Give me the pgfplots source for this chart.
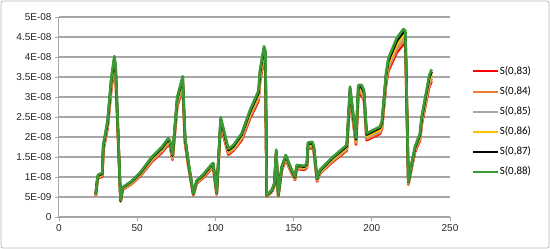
\documentclass[border=0pt]{standalone}
\usepackage{fontspec}
\setmainfont{Liberation Sans}
\newfontfamily\legfont{Carlito}
\usepackage{pgfplots}
\usepackage{pgfplotstable}
\pgfplotsset{compat=1.18}
\definecolor{sred}{HTML}{FF0000}
\definecolor{sorange}{HTML}{ED7D31}
\definecolor{sgray}{HTML}{A5A5A5}
\definecolor{syellow}{HTML}{FFC000}
\definecolor{sblack}{HTML}{000000}
\definecolor{sgreen}{HTML}{3C9A36}
\definecolor{gridgray}{HTML}{A6A6A6}
\definecolor{framegray}{HTML}{B8B8B8}

% y values in units of 1E-08
\pgfplotstableread{
x s83 s84 s85 s86 s87 s88
23.5 0.53 0.54 0.55 0.56 0.57 0.58
24.7 0.95 0.96 0.98 0.99 1.01 1.03
25.5 0.98 1.00 1.02 1.03 1.05 1.07
27.7 1.01 1.03 1.05 1.06 1.08 1.10
28.3 1.66 1.68 1.71 1.74 1.77 1.80
31.1 2.23 2.26 2.30 2.34 2.38 2.42
33.5 3.22 3.27 3.33 3.38 3.45 3.50
35.4 3.70 3.76 3.82 3.88 3.96 4.02
36.2 3.50 3.55 3.61 3.67 3.74 3.80
39.4 0.39 0.39 0.40 0.41 0.41 0.42
40.7 0.68 0.69 0.70 0.71 0.73 0.74
46.5 0.83 0.84 0.86 0.87 0.89 0.90
51.8 1.02 1.04 1.05 1.07 1.09 1.11
56.1 1.22 1.24 1.26 1.28 1.31 1.33
59.3 1.38 1.40 1.43 1.45 1.48 1.50
65.7 1.61 1.64 1.66 1.69 1.72 1.75
69.9 1.81 1.84 1.87 1.90 1.94 1.97
71.0 1.75 1.78 1.81 1.83 1.87 1.90
72.6 1.43 1.45 1.47 1.50 1.53 1.55
75.6 2.76 2.81 2.85 2.90 2.96 3.00
79.1 3.24 3.29 3.34 3.40 3.47 3.52
80.6 1.84 1.87 1.90 1.93 1.97 2.00
82.7 1.27 1.29 1.31 1.33 1.36 1.38
85.9 0.54 0.55 0.56 0.57 0.58 0.59
88.0 0.84 0.85 0.86 0.88 0.90 0.91
92.3 0.98 1.00 1.02 1.03 1.05 1.07
97.6 1.21 1.23 1.25 1.27 1.30 1.32
98.6 1.24 1.26 1.28 1.30 1.33 1.35
100.8 0.56 0.57 0.58 0.59 0.60 0.61
103.4 2.29 2.33 2.37 2.40 2.45 2.49
108.3 1.56 1.59 1.62 1.64 1.67 1.70
111.5 1.66 1.68 1.71 1.74 1.77 1.80
116.8 1.92 1.95 1.99 2.02 2.06 2.09
122.1 2.46 2.50 2.54 2.58 2.63 2.67
126.8 2.84 2.89 2.94 2.98 3.04 3.09
127.6 2.92 2.96 3.01 3.06 3.12 3.17
128.5 3.38 3.43 3.49 3.54 3.61 3.67
131.1 3.93 3.99 4.06 4.12 4.21 4.27
132.0 3.82 3.88 3.94 4.00 4.09 4.15
132.8 0.51 0.51 0.52 0.53 0.54 0.55
136.0 0.62 0.63 0.64 0.65 0.66 0.67
137.7 0.77 0.79 0.80 0.81 0.83 0.84
138.9 1.55 1.57 1.60 1.62 1.65 1.68
140.2 0.51 0.51 0.52 0.53 0.54 0.55
142.4 1.16 1.18 1.20 1.22 1.24 1.26
145.0 1.43 1.45 1.47 1.50 1.53 1.55
148.8 1.09 1.10 1.12 1.14 1.16 1.18
150.9 0.93 0.94 0.96 0.97 0.99 1.01
152.0 1.20 1.22 1.24 1.25 1.28 1.30
156.9 1.18 1.20 1.22 1.24 1.26 1.28
158.5 1.23 1.25 1.27 1.29 1.32 1.34
159.2 1.71 1.74 1.77 1.79 1.83 1.86
162.0 1.73 1.76 1.79 1.81 1.85 1.88
163.0 1.61 1.64 1.66 1.69 1.72 1.75
165.0 0.89 0.91 0.92 0.94 0.96 0.97
166.9 1.09 1.10 1.12 1.14 1.16 1.18
175.0 1.38 1.40 1.43 1.45 1.48 1.50
184.0 1.66 1.68 1.71 1.74 1.77 1.80
186.1 3.00 3.05 3.10 3.15 3.21 3.26
189.9 1.81 1.84 1.87 1.90 1.94 1.97
191.4 3.04 3.09 3.14 3.18 3.25 3.30
193.5 3.04 3.09 3.14 3.18 3.25 3.30
195.0 2.92 2.96 3.01 3.06 3.12 3.17
196.7 1.92 1.95 1.99 2.02 2.06 2.09
205.2 2.08 2.11 2.15 2.18 2.23 2.26
206.5 2.21 2.24 2.28 2.32 2.36 2.40
209.1 3.30 3.36 3.41 3.46 3.54 3.59
210.6 3.65 3.71 3.77 3.83 3.91 3.97
215.9 4.11 4.18 4.25 4.31 4.40 4.47
220.2 4.32 4.39 4.47 4.54 4.63 4.70
221.5 4.28 4.35 4.42 4.49 4.58 4.65
223.4 0.81 0.82 0.84 0.85 0.87 0.88
225.5 1.23 1.25 1.27 1.29 1.32 1.34
227.6 1.62 1.65 1.67 1.70 1.73 1.76
230.8 1.92 1.95 1.99 2.02 2.06 2.09
231.9 2.31 2.35 2.38 2.42 2.47 2.51
236.8 3.27 3.32 3.37 3.43 3.50 3.55
238.3 3.39 3.45 3.51 3.56 3.63 3.69
}\sdata

\begin{document}
\begin{tikzpicture}[x=1pt,y=1pt]
\useasboundingbox (0,0) rectangle (550,249);
\draw[framegray, line width=0.8pt, rounded corners=2pt] (1,1) rectangle (549,248);
\begin{axis}[
  at={(59pt,32pt)}, anchor=south west,
  scale only axis, width=391pt, height=200pt,
  xmin=0, xmax=250, ymin=0, ymax=5,
  xtick={0,50,100,150,200,250},
  xticklabels={0,50,100,150,200,250},
  ytick={0,0.5,1,1.5,2,2.5,3,3.5,4,4.5,5},
  yticklabels={0,5E-09,1E-08,1.5E-08,2E-08,2.5E-08,3E-08,3.5E-08,4E-08,4.5E-08,5E-08},
  axis lines*=left,
  axis line style={draw=gridgray, line width=1pt},
  ymajorgrids,
  grid style={draw=gridgray, line width=1.2pt},
  tick align=outside,
  major tick length=4pt,
  tick style={draw=gridgray, line width=0.8pt},
  ticklabel style={font=\fontsize{10}{12}\selectfont, text=black!85},
  clip=false,
  legend cell align=left,
  legend style={at={(1.0565,0.755)}, anchor=north west, fill=none,
    draw=none, inner sep=0pt, row sep=9.5pt,
    font=\legfont\fontsize{11}{13}\selectfont,
    nodes={inner sep=0.5pt}},
  legend image code/.code={\draw[#1, line width=2pt, line cap=butt]
    (0pt,0pt) -- (25pt,0pt);},
]
\addplot[color=sred, line width=2.6pt, line join=round] table[x=x, y=s83] {\sdata};
\addlegendentry{S(0,83)}
\addplot[color=sorange, line width=2.6pt, line join=round] table[x=x, y=s84] {\sdata};
\addlegendentry{S(0,84)}
\addplot[color=sgray, line width=2.6pt, line join=round] table[x=x, y=s85] {\sdata};
\addlegendentry{S(0,85)}
\addplot[color=syellow, line width=2.6pt, line join=round] table[x=x, y=s86] {\sdata};
\addlegendentry{S(0,86)}
\addplot[color=sblack, line width=2.6pt, line join=round] table[x=x, y=s87] {\sdata};
\addlegendentry{S(0,87)}
\addplot[color=sgreen, line width=2.6pt, line join=round] table[x=x, y=s88] {\sdata};
\addlegendentry{S(0,88)}
\end{axis}
\end{tikzpicture}
\end{document}
